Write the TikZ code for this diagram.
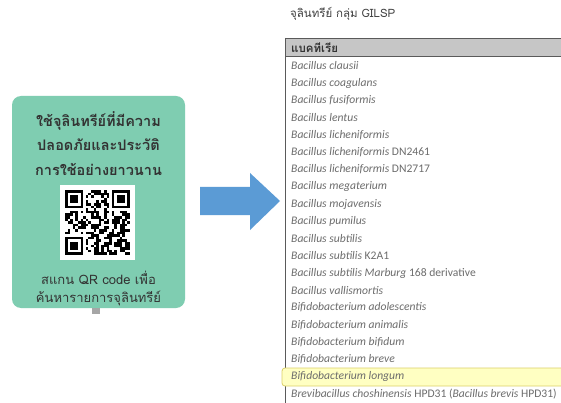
\documentclass[tikz,border=0pt]{standalone}
\usepackage{fontspec}
\setmainfont{Carlito}
\newfontfamily\thai[Script=Thai]{Loma}
\definecolor{mint}{HTML}{7FCDB1}
\definecolor{arrowblue}{HTML}{5B9BD5}
\definecolor{rowtext}{HTML}{6C6C6C}
\definecolor{hdrfill}{HTML}{C6C6C6}
\definecolor{hdrdraw}{HTML}{5A5A5A}
\definecolor{hlfill}{HTML}{FFFFC2}
\definecolor{hldraw}{HTML}{DCD068}
\definecolor{panelText}{HTML}{333333}
\tikzset{
  paneltitle/.style={font=\thai\bfseries\fontsize{14.5}{16}\selectfont, text=panelText, inner sep=0pt},
  panelsub/.style={font=\thai\fontsize{13}{15}\selectfont, text=panelText, inner sep=0pt},
  rowlabel/.style={anchor=west, font=\fontsize{11.6}{13}\selectfont, text=rowtext, inner sep=0pt},
}
\begin{document}
\begin{tikzpicture}[x=1pt,y=-1pt]
\useasboundingbox (0,0) rectangle (561,403);
\fill[white] (0,0) rectangle (561,403);

% left panel
\node[fill=mint, rounded corners=9pt, minimum width=173pt, minimum height=212pt, inner sep=0pt] (panel) at (98.5,202) {};
\fill[gray!70] (92,308) rectangle (100,314);
\node[paneltitle] (t1) at (98.5,121) {ใช้จุลินทรีย์ที่มีความ};
\node[paneltitle] (t2) at (98.5,145) {ปลอดภัยและประวัติ};
\node[paneltitle] (t3) at (98.5,169) {การใช้อย่างยาวนาน};
\node[fill=white, minimum size=75pt, inner sep=0pt] (qr) at (97.5,222.5) {};
\begin{scope}
\pgfmathsetseed{11}
\foreach \i in {0,...,24}{\foreach \j in {0,...,24}{%
  \pgfmathrandominteger{\rr}{0}{1}%
  \pgfmathtruncatemacro{\qskip}{((\i<8)&&(\j<8)) || ((\i>16)&&(\j<8)) || ((\i<8)&&(\j>16))}%
  \ifnum\rr=1 \ifnum\qskip=0 \fill[black] (65+\i*2.6,190+\j*2.6) rectangle ++(2.6,2.6);\fi\fi}}
\foreach \ox/\oy in {0/0,18/0,0/18}{%
  \fill[black] (65+\ox*2.6,190+\oy*2.6) rectangle ++(18.2,18.2);
  \fill[white] (65+\ox*2.6+2.6,190+\oy*2.6+2.6) rectangle ++(13,13);
  \fill[black] (65+\ox*2.6+5.2,190+\oy*2.6+5.2) rectangle ++(7.8,7.8);}
\end{scope}
\node[panelsub] (s1) at (98.5,278) {สแกน QR code เพื่อ};
\node[panelsub] (s2) at (98.5,298) {ค้นหารายการจุลินทรีย์};

% arrow
\fill[arrowblue] (200,187) -- (250,187) -- (250,173) -- (280,201) -- (250,230) -- (250,215) -- (200,215) -- cycle;

% table
\node[anchor=west, font=\thai\fontsize{11.5}{13}\selectfont, text=black!75, inner sep=0pt] (title) at (290,14) {จุลินทรีย์ กลุ่ม GILSP};
\draw[hdrdraw, fill=hdrfill, line width=0.8pt] (285,38) rectangle (566,56.5);
\draw[hdrdraw, line width=1pt] (285,38) -- (285,405);
\node[anchor=west, font=\thai\bfseries\fontsize{11.5}{13}\selectfont, text=black!80, inner sep=0pt] (hdr) at (291,47.5) {แบคทีเรีย};
\draw[hldraw, fill=hlfill, rounded corners=3pt, line width=0.8pt] (282,368) rectangle (570,386);
\foreach \t [count=\k from 0] in {%
  {\textit{Bacillus clausii}},
  {\textit{Bacillus coagulans}},
  {\textit{Bacillus fusiformis}},
  {\textit{Bacillus lentus}},
  {\textit{Bacillus licheniformis}},
  {\textit{Bacillus licheniformis} DN2461},
  {\textit{Bacillus licheniformis} DN2717},
  {\textit{Bacillus megaterium}},
  {\textit{Bacillus mojavensis}},
  {\textit{Bacillus pumilus}},
  {\textit{Bacillus subtilis}},
  {\textit{Bacillus subtilis} K2A1},
  {\textit{Bacillus subtilis Marburg} 168 derivative},
  {\textit{Bacillus vallismortis}},
  {\textit{Bifidobacterium adolescentis}},
  {\textit{Bifidobacterium animalis}},
  {\textit{Bifidobacterium bifidum}},
  {\textit{Bifidobacterium breve}},
  {\textit{Bifidobacterium longum}},
  {\textit{Brevibacillus choshinensis} HPD31 (\textit{Bacillus brevis} HPD31)}}{%
  \node[rowlabel] (r\k) at (291,66+17.26*\k) {\t};
}
\end{tikzpicture}
\end{document}
